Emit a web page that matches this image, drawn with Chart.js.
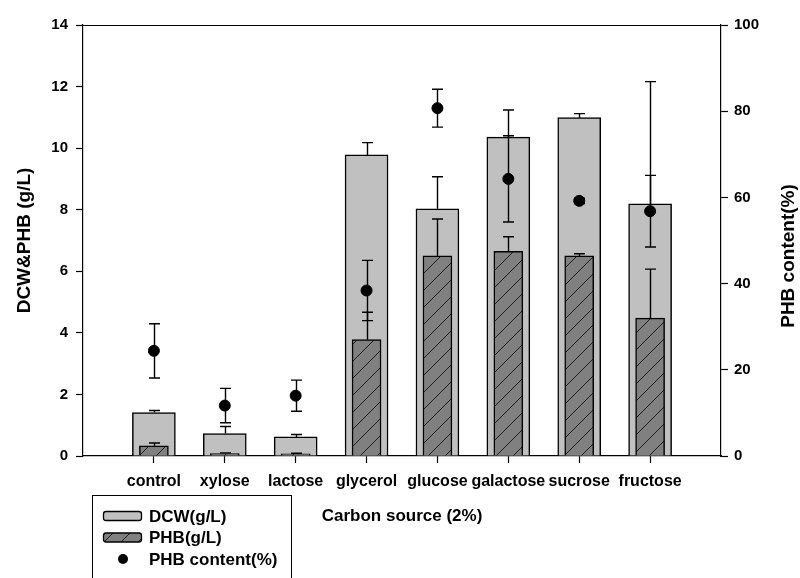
<!DOCTYPE html>
<html>
<head>
<meta charset="utf-8">
<script src="https://cdn.jsdelivr.net/npm/chart.js@4/dist/chart.umd.min.js"></script>
<style>
  html, body { margin: 0; padding: 0; background: #fff; }
</style>
</head>
<body>
<canvas id="c" width="800" height="578"></canvas>
<script>
// Carbon sources tested (2%)
const categories = ['control', 'xylose', 'lactose', 'glycerol', 'glucose', 'galactose', 'sucrose', 'fructose'];
// Dry cell weight, g/L, with SD
const dcw    = [1.41, 0.73, 0.62, 9.78, 8.03, 10.36, 10.99, 8.19];
const dcwErr = [0.07, 0.23, 0.08, 0.40, 1.04, 0.88, 0.13, 3.97];
// PHB, g/L, with SD
const phb    = [0.33, 0.08, 0.07, 3.78, 6.50, 6.65, 6.50, 4.48];
const phbErr = [0.09, 0.02, 0.02, 0.89, 1.20, 0.47, 0.07, 1.59];
// PHB content, % of DCW, with SD
const content    = [24.4, 11.7, 14.0, 38.4, 80.7, 64.3, 59.2, 56.8];
const contentErr = [6.3, 4.0, 3.6, 7.0, 4.4, 10.0, 0.6, 8.3];

const FONT = '"Liberation Sans", Arial, Helvetica, sans-serif';
const BLACK = '#000000';

// empty slots at both ends of the category axis leave a margin of one step
const labels = ['', ...categories, ''];
const pad = arr => [null, ...arr, null];

const canvas = document.getElementById('c');
const ctx = canvas.getContext('2d');

// diagonal hatching used for the PHB bars
function makeHatch(bg, step) {
  const t = document.createElement('canvas');
  t.width = step; t.height = step;
  const g = t.getContext('2d');
  g.fillStyle = bg;
  g.fillRect(0, 0, step, step);
  g.strokeStyle = '#1e1e1e';
  g.lineWidth = 1;
  g.beginPath();
  for (let k = -1; k <= 1; k++) {
    g.moveTo(k * step, step);
    g.lineTo(k * step + step, 0);
  }
  g.stroke();
  return ctx.createPattern(t, 'repeat');
}
const hatch = makeHatch('#808080', 17);

// vertical error bars with caps; one-sided for bars, two-sided for points
const errorBars = {
  id: 'errorBars',
  afterDatasetsDraw(chart) {
    const c = chart.ctx;
    c.save();
    c.strokeStyle = BLACK;
    c.lineWidth = 1.4;
    chart.data.datasets.forEach((ds, di) => {
      if (!ds.errors) return;
      const meta = chart.getDatasetMeta(di);
      const ys = chart.scales[meta.yAxisID];
      meta.data.forEach((el, i) => {
        const v = ds.data[i], e = ds.errors[i];
        if (v == null || e == null) return;
        const x = Math.round(el.x) + 0.5;
        const yTop = ys.getPixelForValue(v + e);
        const yBot = ds.errorBoth ? ys.getPixelForValue(v - e) : ys.getPixelForValue(v);
        const w = 5.5;
        c.beginPath();
        c.moveTo(x, yTop); c.lineTo(x, yBot);
        c.moveTo(x - w, yTop); c.lineTo(x + w, yTop);
        if (ds.errorBoth) { c.moveTo(x - w, yBot); c.lineTo(x + w, yBot); }
        c.stroke();
      });
    });
    c.restore();
  }
};

// frame top edge, right-hand axis title and the boxed legend
const decorations = {
  id: 'decorations',
  afterDraw(chart) {
    const c = chart.ctx;
    const a = chart.chartArea;
    c.save();
    c.strokeStyle = BLACK;
    c.lineWidth = 1.2;
    c.beginPath();
    c.moveTo(a.left, Math.round(a.top) + 0.5);
    c.lineTo(a.right, Math.round(a.top) + 0.5);
    c.stroke();

    // right axis title, reading bottom to top
    c.fillStyle = BLACK;
    c.font = 'bold 19px ' + FONT;
    c.textAlign = 'center';
    c.textBaseline = 'middle';
    c.translate(789, 256);
    c.rotate(-Math.PI / 2);
    c.fillText(chart.options.scales.y2.title.text, 0, 0);
    c.restore();

    // legend
    c.save();
    c.strokeStyle = BLACK;
    c.lineWidth = 1;
    c.strokeRect(92.5, 495.5, 199, 110);
    const rows = [516, 537.5, 559];
    c.font = 'bold 17px ' + FONT;
    c.textAlign = 'left';
    c.textBaseline = 'middle';
    chart.data.datasets.forEach((ds, i) => {
      const cy = rows[i];
      if (ds.type === 'bar') {
        c.beginPath();
        c.roundRect(103.5, cy - 4.5, 38, 9, 2.5);
        c.fillStyle = ds.backgroundColor;
        c.fill();
        c.lineWidth = 1.3;
        c.strokeStyle = BLACK;
        c.stroke();
      } else {
        c.beginPath();
        c.arc(123, cy, 5, 0, Math.PI * 2);
        c.fillStyle = BLACK;
        c.fill();
      }
      c.fillStyle = BLACK;
      c.fillText(ds.label, 149, cy + 1);
    });
    c.restore();
  }
};

const hideEndTicks = tc => (tc.index === 0 || tc.index === labels.length - 1) ? 'rgba(0,0,0,0)' : BLACK;

new Chart(ctx, {
  data: {
    labels: labels,
    datasets: [
      {
        type: 'bar',
        label: 'DCW(g/L)',
        data: pad(dcw),
        errors: pad(dcwErr),
        backgroundColor: '#c0c0c0',
        borderColor: BLACK,
        borderWidth: 1.5,
        barThickness: 43,
        grouped: false,
        yAxisID: 'y',
        order: 3
      },
      {
        type: 'bar',
        label: 'PHB(g/L)',
        data: pad(phb),
        errors: pad(phbErr),
        backgroundColor: hatch,
        borderColor: BLACK,
        borderWidth: 1.5,
        barThickness: 29,
        grouped: false,
        yAxisID: 'y',
        order: 2
      },
      {
        type: 'line',
        label: 'PHB content(%)',
        data: pad(content),
        errors: pad(contentErr),
        errorBoth: true,
        showLine: false,
        pointRadius: 5.5,
        pointHoverRadius: 5.5,
        pointStyle: 'circle',
        backgroundColor: BLACK,
        borderColor: BLACK,
        yAxisID: 'y2',
        order: 1
      }
    ]
  },
  options: {
    responsive: false,
    animation: false,
    events: [],
    layout: { padding: { top: 25, left: 0, right: 0, bottom: 0 } },
    plugins: {
      legend: { display: false },
      tooltip: { enabled: false }
    },
    scales: {
      x: {
        type: 'category',
        offset: false,
        grid: {
          display: true, drawOnChartArea: false, drawTicks: true,
          tickLength: 7, offset: false, tickColor: hideEndTicks, tickWidth: 1.2
        },
        border: { display: true, color: BLACK, width: 1.2 },
        ticks: {
          autoSkip: false, maxRotation: 0, minRotation: 0, padding: 9,
          color: BLACK, font: { family: FONT, size: 16, weight: 'bold' }
        },
        title: {
          display: true, text: 'Carbon source (2%)', color: BLACK,
          font: { family: FONT, size: 17, weight: 'bold' },
          padding: { top: 0, bottom: 51 }
        },
        afterFit: s => { s.height = 122; }
      },
      y: {
        type: 'linear', position: 'left', min: 0, max: 14,
        grid: { display: true, drawOnChartArea: false, tickLength: 7, tickColor: BLACK, tickWidth: 1.2 },
        border: { display: true, color: BLACK, width: 1.2 },
        ticks: {
          stepSize: 2, padding: 8, color: BLACK,
          font: { family: FONT, size: 15, weight: 'bold' }
        },
        title: {
          display: true, text: 'DCW&PHB (g/L)', color: BLACK,
          font: { family: FONT, size: 19, weight: 'bold' },
          padding: { top: 13, bottom: 0 }
        },
        afterFit: s => { s.width = 83; }
      },
      y2: {
        type: 'linear', position: 'right', min: 0, max: 100,
        grid: { display: true, drawOnChartArea: false, tickLength: 7, tickColor: BLACK, tickWidth: 1.2 },
        border: { display: true, color: BLACK, width: 1.2 },
        ticks: {
          stepSize: 20, padding: 6, color: BLACK,
          font: { family: FONT, size: 15, weight: 'bold' }
        },
        title: { display: false, text: 'PHB content(%)' },
        afterFit: s => { s.width = 79; }
      }
    }
  },
  plugins: [errorBars, decorations]
});
</script>
</body>
</html>
